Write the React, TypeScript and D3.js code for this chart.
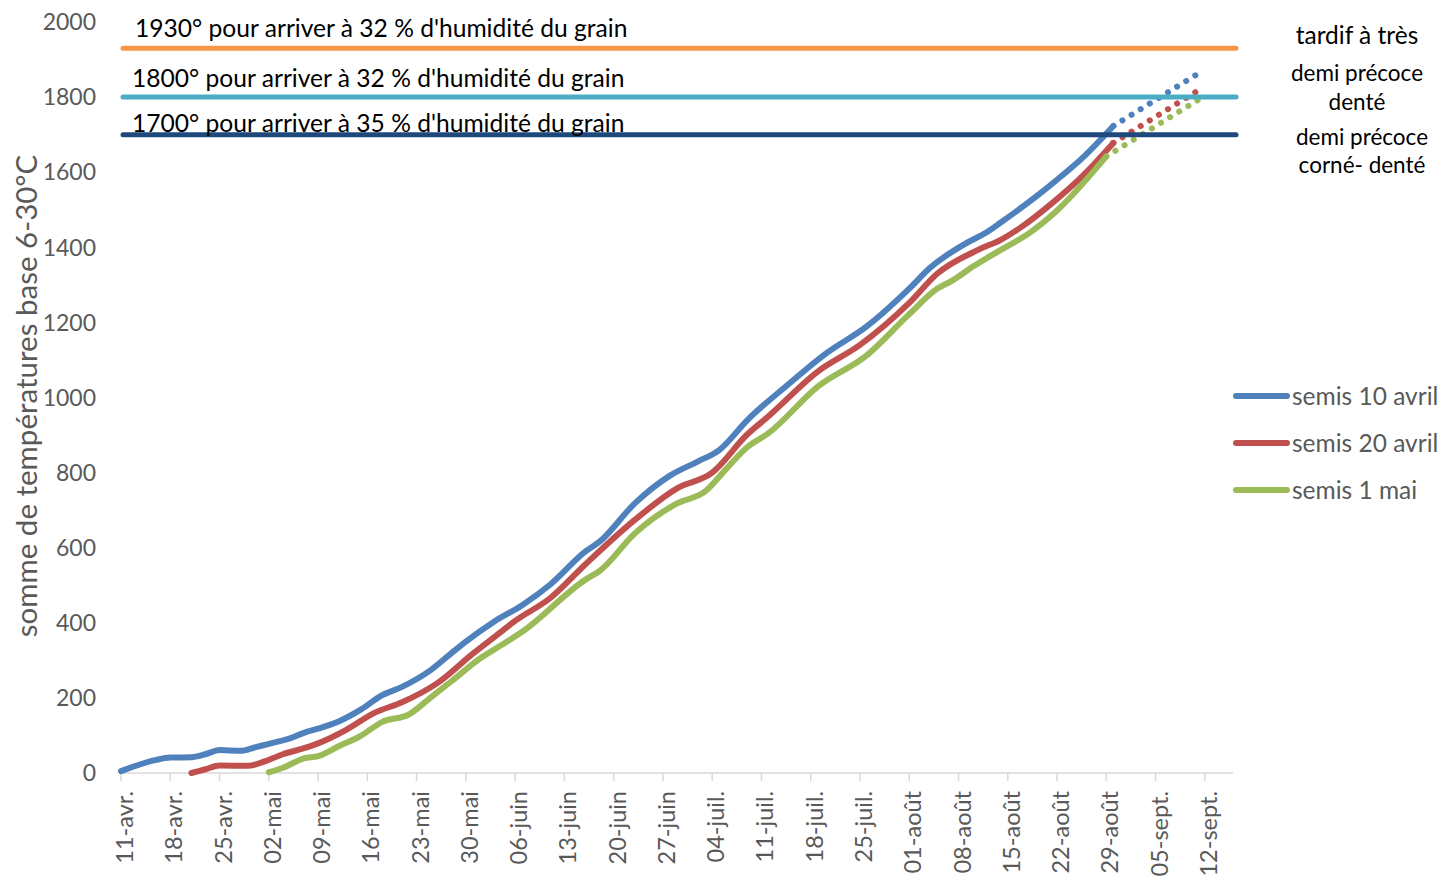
import React from "react";
import * as d3 from "d3";

// ---------- data ----------
const startDate = new Date(Date.UTC(2016, 3, 11));
const tickLabels = [
  "11-avr.", "18-avr.", "25-avr.", "02-mai", "09-mai", "16-mai", "23-mai", "30-mai",
  "06-juin", "13-juin", "20-juin", "27-juin", "04-juil.", "11-juil.", "18-juil.", "25-juil.",
  "01-août", "08-août", "15-août", "22-août", "29-août", "05-sept.", "12-sept.",
];
const yTicks = [0, 200, 400, 600, 800, 1000, 1200, 1400, 1600, 1800, 2000];

// days since 11 April, cumulative degree-days
const blueDays = [0, 5, 7, 10, 12, 14, 17, 19, 22, 24, 26, 28, 31, 34, 37, 40, 44, 47, 49, 53, 57, 61, 66, 68, 73, 78, 82, 85, 89, 95, 100, 106, 112, 115, 120, 123, 125, 130, 133, 137, 141];
const blueValues = [5, 35, 41, 42, 50, 61, 59, 68, 82, 92, 107, 118, 138, 168, 206, 230, 274, 320, 350, 403, 447, 502, 590, 616, 718, 792, 830, 860, 940, 1038, 1115, 1190, 1290, 1346, 1410, 1440, 1466, 1535, 1580, 1645, 1723];
const blueForecastDays = [141, 153];
const blueForecastValues = [1723, 1862];

const redDays = [10, 12, 14, 18, 20, 23, 26, 28, 32, 36, 40, 45, 50, 54, 56, 61, 66, 73, 79, 84, 89, 92, 99, 105, 112, 116, 122, 125, 128, 132, 137, 141];
const redValues = [0, 10, 20, 19, 28, 50, 66, 79, 115, 160, 189, 240, 318, 376, 405, 466, 556, 674, 758, 800, 902, 950, 1069, 1140, 1252, 1330, 1395, 1420, 1455, 1513, 1597, 1678];
const redForecastDays = [141, 153];
const redForecastValues = [1678, 1817];

const greenDays = [21, 23, 26, 28, 31, 34, 37, 41, 44, 47, 51, 54, 57, 66, 68, 73, 79, 83, 86, 89, 92, 99, 106, 112, 116, 118, 121, 125, 129, 133, 140];
const greenValues = [2, 14, 39, 45, 72, 98, 135, 157, 201, 245, 305, 340, 376, 515, 538, 638, 718, 750, 810, 868, 905, 1029, 1113, 1222, 1290, 1310, 1348, 1393, 1437, 1498, 1642];
const greenForecastDays = [140, 153];
const greenForecastValues = [1642, 1792];

const seriesNames = ["semis 10 avril", "semis 20 avril", "semis 1 mai"];
const seriesColors = ["#4f81bd", "#c0504d", "#9bbb59"];

const thresholdValues = [1930, 1800, 1700];
const thresholdLabels = [
  "1930° pour arriver à 32 % d'humidité du grain",
  "1800° pour arriver à 32 % d'humidité du grain",
  "1700° pour arriver à 35 % d'humidité du grain",
];
const thresholdColors = ["#f79646", "#4bacc6", "#1f497d"];

const FONT = "Lato, 'Open Sans', sans-serif";

export default function App() {
  const W = 1443, H = 878;
  const x = d3.scaleUtc()
    .domain([startDate, d3.utcDay.offset(startDate, 158)])
    .range([121, 1233]);
  const y = d3.scaleLinear().domain([0, 2000]).range([773, 22]);
  const xd = (d: number) => x(d3.utcDay.offset(startDate, d));

  const line = d3.line<[number, number]>()
    .x((p) => xd(p[0]))
    .y((p) => y(p[1]))
    .curve(d3.curveMonotoneX);
  const straight = d3.line<[number, number]>()
    .x((p) => xd(p[0]))
    .y((p) => y(p[1]));

  const zip = (a: number[], b: number[]) => a.map((d, i) => [d, b[i]] as [number, number]);
  const series = [
    { solid: zip(blueDays, blueValues), dots: zip(blueForecastDays, blueForecastValues) },
    { solid: zip(redDays, redValues), dots: zip(redForecastDays, redForecastValues) },
    { solid: zip(greenDays, greenValues), dots: zip(greenForecastDays, greenForecastValues) },
  ];

  const tickDates = tickLabels.map((_, i) => d3.utcDay.offset(startDate, i * 7));
  const [x0, x1] = x.range();

  const thresholdLabelPos = [
    { dx: 14, dy: -11 },
    { dx: 11, dy: -10 },
    { dx: 11, dy: -3 },
  ];

  return (
    <svg width={W} height={H} style={{ position: "absolute", left: 0, top: 0, background: "#fff" }} fontFamily={FONT}>
      {/* x axis */}
      <line x1={x0} x2={x1} y1={y(0)} y2={y(0)} stroke="#d9d9d9" strokeWidth={1.5} />
      {tickDates.map((d, i) => (
        <g key={i} transform={`translate(${x(d)},0)`}>
          <line y1={y(0)} y2={y(0) + 8} stroke="#d9d9d9" strokeWidth={1.5} />
          <text
            transform={`translate(12,${y(0) + 18}) rotate(-90)`}
            textAnchor="end"
            fontSize={23.5}
            fill="#595959"
          >
            {tickLabels[i]}
          </text>
        </g>
      ))}
      {/* y axis labels */}
      {yTicks.map((t) => (
        <text key={t} x={96} y={y(t)} dy="0.36em" textAnchor="end" fontSize={23} fill="#595959">
          {t}
        </text>
      ))}
      <text
        transform={`translate(37,396) rotate(-90)`}
        textAnchor="middle"
        fontSize={29.5}
        fill="#595959"
      >
        somme de températures base 6-30°C
      </text>

      {/* series */}
      {series.map((s, i) => (
        <g key={i}>
          <path d={line(s.solid) || ""} fill="none" stroke={seriesColors[i]} strokeWidth={6} strokeLinecap="round" strokeLinejoin="round" />
          <path d={straight(s.dots) || ""} fill="none" stroke={seriesColors[i]} strokeWidth={6} strokeLinecap="round" strokeDasharray="0.1 10.6" />
        </g>
      ))}

      {/* thresholds */}
      {thresholdValues.map((v, i) => (
        <g key={v}>
          <line x1={x0 + 2} x2={x1 + 3} y1={y(v)} y2={y(v)} stroke={thresholdColors[i]} strokeWidth={5} strokeLinecap="round" />
          <text x={x0 + thresholdLabelPos[i].dx} y={y(v) + thresholdLabelPos[i].dy} fontSize={24.6} fill="#000">
            {thresholdLabels[i]}
          </text>
        </g>
      ))}

      {/* right side notes */}
      <text x={1357} y={44} textAnchor="middle" fontSize={24.5} fill="#000">tardif à très</text>
      <text x={1357} y={81} textAnchor="middle" fontSize={22.5} fill="#000">demi précoce</text>
      <text x={1357} y={110} textAnchor="middle" fontSize={22.5} fill="#000">denté</text>
      <text x={1362} y={145} textAnchor="middle" fontSize={22.5} fill="#000">demi précoce</text>
      <text x={1362} y={173} textAnchor="middle" fontSize={22.5} fill="#000">corné- denté</text>

      {/* legend */}
      {seriesNames.map((n, i) => (
        <g key={n} transform={`translate(0,${396 + i * 47})`}>
          <line x1={1236} x2={1287} y1={0} y2={0} stroke={seriesColors[i]} strokeWidth={6} strokeLinecap="round" />
          <text x={1292} y={0} dy="0.36em" fontSize={24.5} fill="#595959">{n}</text>
        </g>
      ))}
    </svg>
  );
}
